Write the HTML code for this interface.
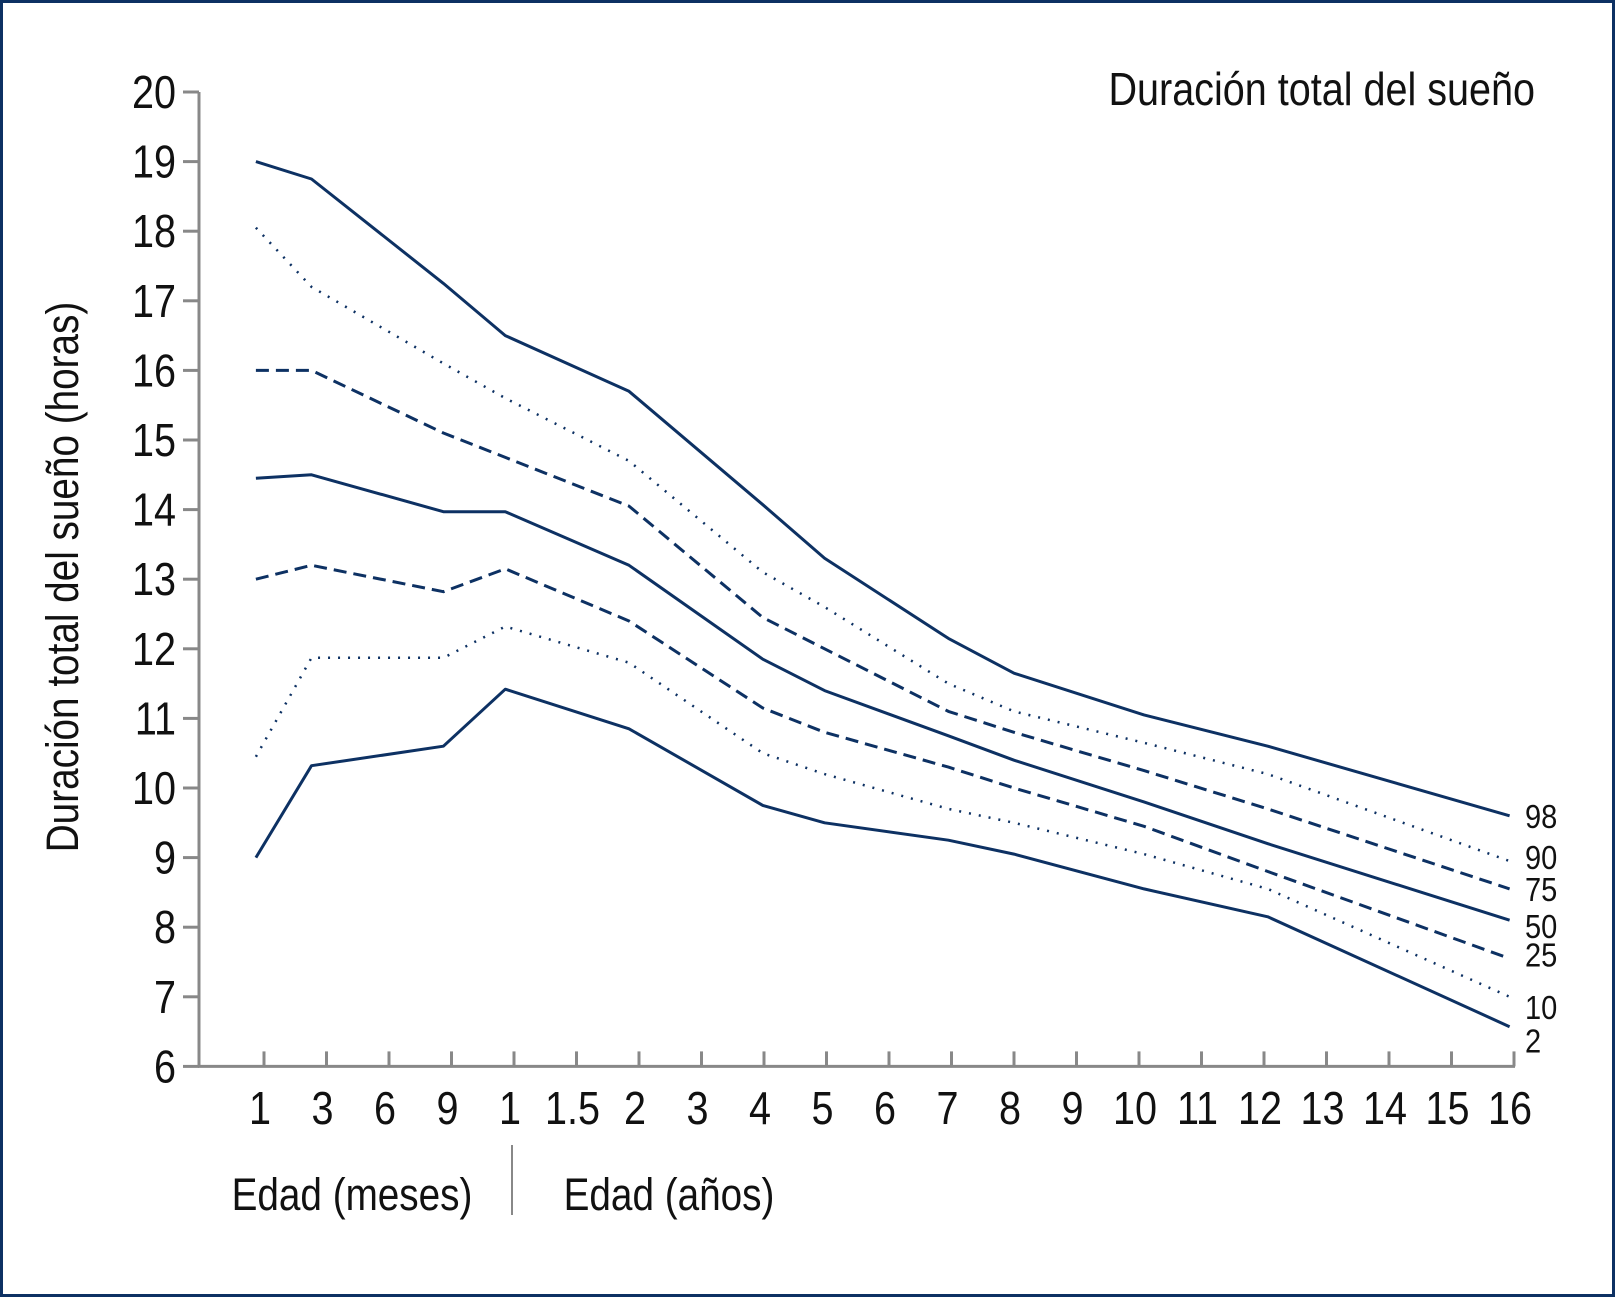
<!DOCTYPE html>
<html><head><meta charset="utf-8"><style>
body{margin:0;background:#fff}
svg{display:block}
text{font-family:"Liberation Sans Narrow","Liberation Sans",sans-serif;fill:#111}
</style></head><body>
<svg width="1615" height="1297" viewBox="0 0 1615 1297">
<rect x="1.5" y="1.5" width="1612" height="1294" fill="#fff" stroke="#0d3163" stroke-width="3"/>
<text transform="translate(1535,105) scale(0.86,1)" text-anchor="end" font-size="46">Duración total del sueño</text>
<text transform="translate(78,577) rotate(-90) scale(0.86,1)" text-anchor="middle" font-size="45">Duración total del sueño (horas)</text>
<g id="axes"></g>
<g id="series"></g>
<line x1="512" y1="1145" x2="512" y2="1215" stroke="#888" stroke-width="2"/>
<text transform="translate(352,1210) scale(0.86,1)" text-anchor="middle" font-size="45">Edad (meses)</text>
<text transform="translate(669,1210) scale(0.86,1)" text-anchor="middle" font-size="45">Edad (años)</text>
</svg>
<script>
const yTicks=[6,7,8,9,10,11,12,13,14,15,16,17,18,19,20];
const xTickLabels=["1","3","6","9","1","1.5","2","3","4","5","6","7","8","9","10","11","12","13","14","15","16"];
const xIdx=[-0.13,0.76,2.87,3.86,5.84,7.98,8.97,10.95,12,14.08,16.06,19.93];
const seriesNames=["98","90","75","50","25","10","2"];
const p98=[19,18.75,17.25,16.5,15.7,14.07,13.3,12.15,11.65,11.05,10.6,9.6];
const p90=[18.05,17.2,16.1,15.6,14.7,13.1,12.6,11.5,11.1,10.65,10.2,8.95];
const p75=[16,16,15.1,14.75,14.05,12.45,12.0,11.1,10.8,10.25,9.7,8.55];
const p50=[14.45,14.5,13.97,13.97,13.2,11.85,11.4,10.75,10.4,9.8,9.2,8.1];
const p25=[13,13.2,12.82,13.15,12.4,11.15,10.8,10.3,10.0,9.45,8.8,7.55];
const p10=[10.45,11.87,11.87,12.32,11.8,10.5,10.2,9.7,9.5,9.05,8.55,7.0];
const p2=[9,10.32,10.6,11.42,10.85,9.75,9.5,9.25,9.05,8.55,8.15,6.57];
const NS="http://www.w3.org/2000/svg";
function X(i){return 264+62.5*i;}
function Y(v){return 92+(20-v)*69.6;}
const axes=document.getElementById('axes'), ser=document.getElementById('series');
function mk(tag,attrs,parent){const e=document.createElementNS(NS,tag);for(const k in attrs)e.setAttribute(k,attrs[k]);parent.appendChild(e);return e;}
let a=mk('line',{x1:199,y1:Y(20),x2:199,y2:Y(6),stroke:'#888','stroke-width':3},axes);


a=mk('line',{x1:198,y1:Y(6),x2:X(20)+1,y2:Y(6),stroke:'#888','stroke-width':3},axes);


yTicks.forEach(v=>{
 const t=mk('line',{x1:183,y1:Y(v),x2:199,y2:Y(v),stroke:'#888','stroke-width':3},axes);
 
 
 const l=mk('text',{transform:'translate(176,'+(Y(v)+16)+') scale(0.86,1)','text-anchor':'end','font-size':46},axes);
 l.textContent=v;
 
 
});
xTickLabels.forEach((s,i)=>{
 const t=mk('line',{x1:X(i),y1:Y(6),x2:X(i),y2:Y(6)-15,stroke:'#888','stroke-width':3},axes);
 
 
 const l=mk('text',{transform:'translate('+(X(i)-4)+',1124) scale(0.86,1)','text-anchor':'middle','font-size':46},axes);
 l.textContent=s;
 
 
});
const data=[p98,p90,p75,p50,p25,p10,p2];
const styles=[{w:3,d:''},{w:2.5,d:'2 8'},{w:3,d:'13 7'},{w:3,d:''},{w:3,d:'13 7'},{w:2.5,d:'2 8'},{w:3,d:''}];
const labelDy=[8,4,8,14,4,18,22];
data.forEach((vals,k)=>{
 const pts=vals.map((v,i)=>X(xIdx[i]).toFixed(1)+','+Y(v).toFixed(1)).join(' ');
 const p=mk('polyline',{points:pts,fill:'none',stroke:'#0d3163','stroke-width':styles[k].w,'stroke-dasharray':styles[k].d,'stroke-linejoin':'round'},ser);
 
 
 const l=mk('text',{transform:'translate(1525,'+(Y(vals[vals.length-1])+labelDy[k]+4)+') scale(0.88,1)','font-size':33},ser);
 l.textContent=seriesNames[k];
 
 
});
</script>
</body></html>
